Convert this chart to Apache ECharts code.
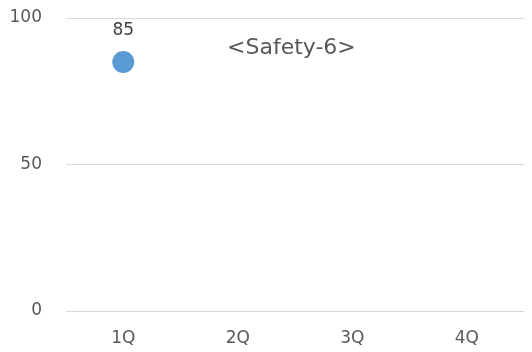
<!DOCTYPE html>
<html><head><meta charset="utf-8">
<script src="https://cdn.jsdelivr.net/npm/echarts@6/dist/echarts.min.js"></script>
<style>html,body{margin:0;padding:0;background:#fff}#c{width:532px;height:352px}</style>
</head><body><div id="c"></div>
<script>
const categories = ['1Q', '2Q', '3Q', '4Q'];
const values = [85, null, null, null];
const yTicks = { min: 0, max: 100, interval: 50 };
const titleText = '<Safety-6>';

const FONT = '"DejaVu Sans", sans-serif';
const chart = echarts.init(document.getElementById('c'));
chart.setOption({
  animation: false,
  backgroundColor: '#fff',
  title: {
    text: titleText, left: 222, top: 32,
    textStyle: { fontFamily: FONT, fontSize: 22, fontWeight: 'normal', color: '#595959' }
  },
  grid: { left: 66, right: 8, top: 18, bottom: 41 },
  xAxis: {
    type: 'category', data: categories,
    axisLine: { show: false }, axisTick: { show: false },
    axisLabel: { color: '#595959', fontFamily: FONT, fontSize: 17, margin: 19 }
  },
  yAxis: {
    type: 'value', min: yTicks.min, max: yTicks.max, interval: yTicks.interval,
    axisLine: { show: false }, axisTick: { show: false },
    axisLabel: { color: '#595959', fontFamily: FONT, fontSize: 17, margin: 24 },
    splitLine: { lineStyle: { color: '#D9D9D9', width: 1 } }
  },
  series: [{
    type: 'scatter', data: values, symbol: 'circle', symbolSize: 22,
    itemStyle: { color: '#5B9BD5', opacity: 1 },
    label: { show: true, position: 'top', distance: 12, color: '#404040', fontFamily: FONT, fontSize: 17 }
  }]
});
</script></body></html>
